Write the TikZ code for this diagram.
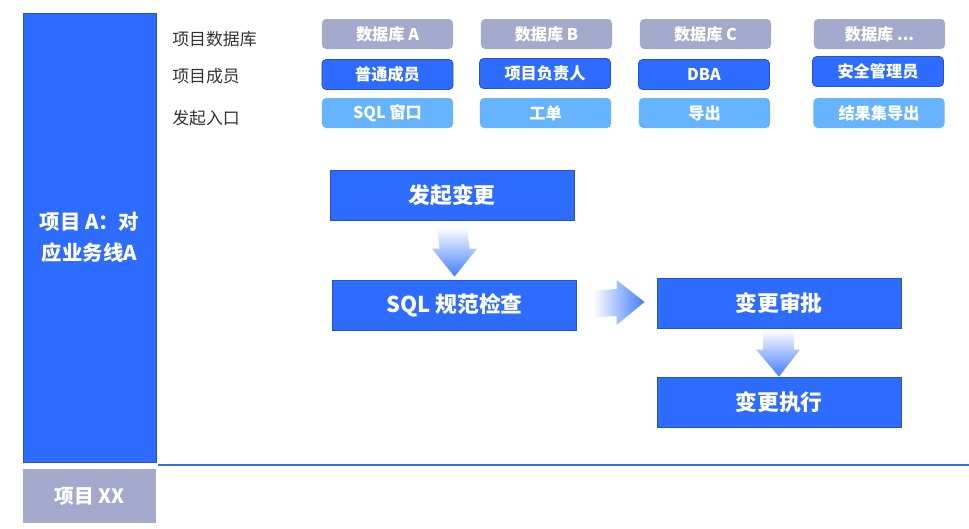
\documentclass[tikz,border=0pt]{standalone}
\usepackage{fontspec}
\setmainfont{Noto Sans CJK SC}
\usetikzlibrary{positioning,calc}

\definecolor{mainblue}{HTML}{2E6BFF}
\definecolor{edgeblue}{HTML}{2352CC}
\definecolor{dbgrey}{HTML}{A3AACC}
\definecolor{entryblue}{HTML}{66B3FF}
\definecolor{lineblue}{HTML}{3A6FD8}
\definecolor{arrowblue}{HTML}{3F7DFF}
\definecolor{labelgrey}{HTML}{333333}

\tikzset{
  tag/.style={rounded corners=3pt, minimum width=3.275cm, minimum height=0.75cm,
    inner sep=0pt, text=white, font=\bfseries\fontsize{11.5}{13}\selectfont},
  dbtag/.style={tag, fill=dbgrey},
  roletag/.style={tag, fill=mainblue, draw=edgeblue, line width=0.6pt},
  entrytag/.style={tag, fill=entryblue},
  rowlabel/.style={anchor=west, inner sep=0pt, text=labelgrey, font=\fontsize{12}{14}\selectfont},
  stepbox/.style={fill=mainblue, draw=edgeblue, line width=0.6pt, minimum width=6.1cm,
    minimum height=1.25cm, inner sep=0pt, text=white, font=\bfseries\fontsize{15.5}{18}\selectfont},
  downshade/.style={top color=white, bottom color=arrowblue, draw=none},
  rightshade/.style={left color=white, right color=arrowblue, draw=none}
}

\begin{document}
\begin{tikzpicture}[x=0.025cm, y=-0.025cm]
    \useasboundingbox (0,0) rectangle (969,528);

    % Project columns on the left
    \node (proj) [fill=mainblue, draw=edgeblue, line width=0.6pt, minimum width=3.325cm,
      minimum height=11.225cm, text=white, align=center,
      font=\bfseries\fontsize{14.5}{22}\selectfont] at (89.5, 237.5) {项目 A：对\\应业务线A};
    \node (other) [fill=dbgrey, minimum width=3.325cm, minimum height=1.35cm, text=white,
      font=\bfseries\fontsize{14}{16}\selectfont] at (89.5, 496) {项目 XX};
    \coordinate (lineL) at (158, 465);
    \coordinate (lineR) at (969, 465);
    \draw[lineblue, line width=1pt] (lineL) -- (lineR);

    % Row labels
    \node (lbldb) [rowlabel] at (172, 39) {项目数据库};
    \node (lblrole) [rowlabel] at (172, 76) {项目成员};
    \node (lblentry) [rowlabel] at (172, 118) {发起入口};

    % Databases
    \node (dbA) [dbtag] at (387.5, 34) {数据库 A};
    \node (dbB) [dbtag] at (546.5, 34) {数据库 B};
    \node (dbC) [dbtag] at (705.5, 34) {数据库 C};
    \node (dbD) [dbtag] at (879.5, 34) {数据库 ...};

    % Members
    \node (roleA) [roletag] at (387.5, 74.5) {普通成员};
    \node (roleB) [roletag] at (545, 73.5) {项目负责人};
    \node (roleC) [roletag] at (704, 74.5) {DBA};
    \node (roleD) [roletag] at (878, 71.5) {安全管理员};

    % Entries
    \node (entryA) [entrytag] at (387.5, 113) {SQL 窗口};
    \node (entryB) [entrytag] at (545.5, 113) {工单};
    \node (entryC) [entrytag] at (704.5, 113) {导出};
    \node (entryD) [entrytag] at (879, 113) {结果集导出};

    % Flow
    \node (launch) [stepbox] at (452, 195) {发起变更};
    \node (check) [stepbox] at (454.5, 305) {SQL 规范检查};
    \node (approve) [stepbox] at (779, 303.5) {变更审批};
    \node (execute) [stepbox] at (779, 402) {变更执行};

    % Block arrows
    \shade[downshade] ($(launch.south)+(-15,7)$) -- ($(launch.south)+(15,7)$)
      -- ($(check.north)+(15,-31)$) -- ($(check.north)+(22.5,-31)$)
      -- ($(check.north)+(0,-3)$) -- ($(check.north)+(-22.5,-31)$)
      -- ($(check.north)+(-15,-31)$) -- cycle;
    \shade[rightshade] ($(check.east)+(16,-14.5)$) -- ($(approve.west)+(-40,-14.5)$)
      -- ($(approve.west)+(-40,-23.5)$) -- ($(approve.west)+(-12,-1.5)$)
      -- ($(approve.west)+(-40,21.5)$) -- ($(approve.west)+(-40,12.5)$)
      -- ($(check.east)+(16,12.5)$) -- cycle;
    \shade[downshade] ($(approve.south)+(-16,1)$) -- ($(approve.south)+(15,1)$)
      -- ($(execute.north)+(15,-27)$) -- ($(execute.north)+(21,-27)$)
      -- ($(execute.north)+(0,0)$) -- ($(execute.north)+(-23,-27)$)
      -- ($(execute.north)+(-16,-27)$) -- cycle;

\end{tikzpicture}
\end{document}
